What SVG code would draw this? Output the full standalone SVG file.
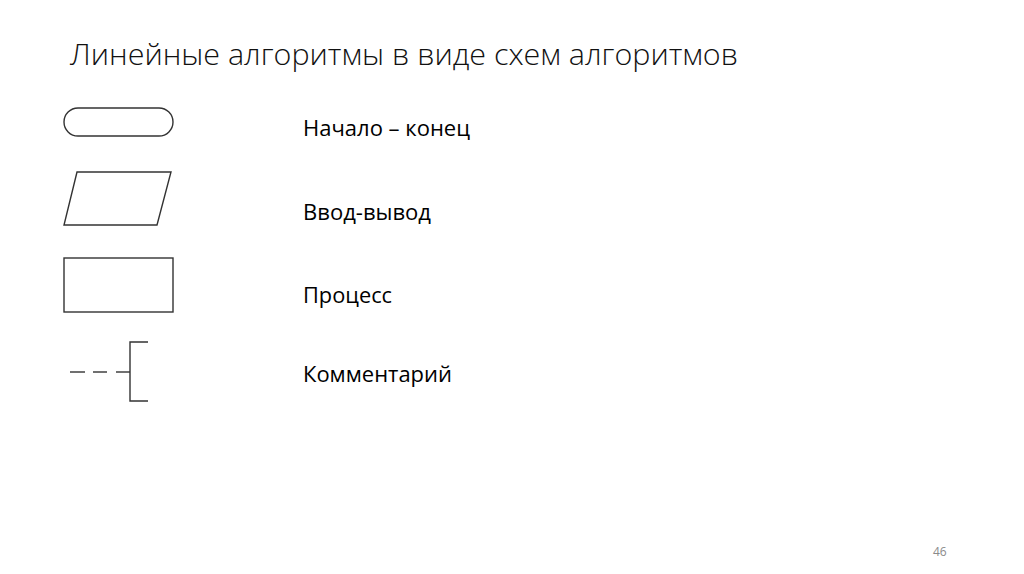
<svg xmlns="http://www.w3.org/2000/svg" width="1024" height="574" viewBox="0 0 1024 574">
<style>
.shape{fill:none;stroke:#333;stroke-width:1.4}
.lbl{font-family:"Open Sans","Liberation Sans",sans-serif;font-size:21.5px;fill:#000}
.title{font-family:"Open Sans","Liberation Sans",sans-serif;font-size:30px;font-weight:300;fill:#111}
.num{font-family:"Open Sans","Liberation Sans",sans-serif;font-size:12px;fill:#8a8a8a}
</style>
<rect width="1024" height="574" fill="#fff"/>
<text class="title" x="70" y="65" textLength="668" lengthAdjust="spacingAndGlyphs">Линейные алгоритмы в виде схем алгоритмов</text>
<g id="terminal">
<rect class="shape" x="64" y="108" width="109" height="28" rx="14" ry="14"/>
<text class="lbl" x="303" y="136" textLength="167" lengthAdjust="spacingAndGlyphs">Начало – конец</text>
</g>
<g id="io">
<polygon class="shape" points="77,172 171,172 157,225 64,225"/>
<text class="lbl" x="303" y="220" textLength="128" lengthAdjust="spacingAndGlyphs">Ввод-вывод</text>
</g>
<g id="process">
<rect class="shape" x="64" y="258" width="109" height="54"/>
<text class="lbl" x="303" y="303" textLength="89" lengthAdjust="spacingAndGlyphs">Процесс</text>
</g>
<g id="comment">
<line class="shape" x1="70" y1="372" x2="85" y2="372"/>
<line class="shape" x1="93" y1="372" x2="107" y2="372"/>
<line class="shape" x1="116" y1="372" x2="130" y2="372"/>
<polyline class="shape" points="148,342 130,342 130,401 148,401"/>
<text class="lbl" x="303" y="382" textLength="149" lengthAdjust="spacingAndGlyphs">Комментарий</text>
</g>
<g id="connectors"></g>
<text class="num" x="933" y="556">46</text>
</svg>
